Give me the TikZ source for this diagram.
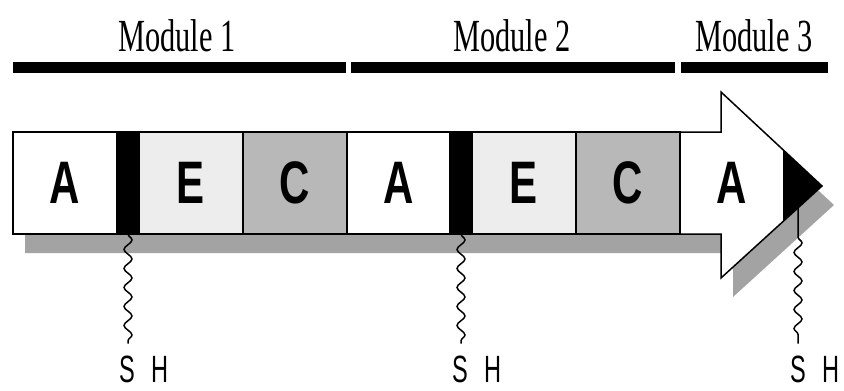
\documentclass[tikz,border=0pt]{standalone}
\usepackage{fontspec}
\usepackage{graphicx}
\setmainfont{Liberation Serif}
\newfontfamily\arialfont{Liberation Sans}
\usetikzlibrary{positioning,decorations.pathmorphing}
\definecolor{egray}{rgb}{0.93,0.93,0.93}
\definecolor{cgray}{rgb}{0.72,0.72,0.72}
\definecolor{sgray}{rgb}{0.64,0.64,0.64}
\newcommand{\dom}[1]{\scalebox{0.7}[1]{#1}}
\newcommand{\modname}[1]{\scalebox{0.66}[1]{#1}}
\newcommand{\thiol}{\scalebox{0.62}[1]{S\hspace{0.66em}H}}

\begin{document}
\begin{tikzpicture}[line cap=butt,line join=miter,x=1pt,y=-1pt,
  seg/.style={draw,line width=1.5pt,minimum height=102pt,minimum width=104pt,inner sep=0pt,outer sep=0pt,font=\arialfont\bfseries\fontsize{60}{60}\selectfont},
  pcp/.style={seg,fill=black,minimum width=22pt},
  modlab/.style={font=\fontsize{46}{46}\selectfont},
  shlab/.style={inner sep=0pt,outer sep=12pt,font=\arialfont\fontsize{38}{38}\selectfont},
  wiggle/.style={decoration={snake,segment length=19pt,amplitude=4pt}},
  wire/.style={line width=1.5pt}]
\useasboundingbox (0,0) rectangle (844,391);
\draw[line width=11pt] (13,67.5) -- (346,67.5);
\draw[line width=11pt] (351,67.5) -- (675,67.5);
\draw[line width=11pt] (681,67.5) -- (828,67.5);
\node[modlab] (mod1) at (177,36) {\modname{Module 1}};
\node[modlab] (mod2) at (512,36) {\modname{Module 2}};
\node[modlab] (mod3) at (754,36) {\modname{Module 3}};
\fill[sgray,shift={(12,19)}] (13,132) -- (721,132) -- (721,92) -- (822,186) -- (721,278) -- (721,234) -- (13,234) -- cycle;
\filldraw[fill=white,line width=1.5pt] (13,132) -- (721,132) -- (721,92) -- (822,186) -- (721,278) -- (721,234) -- (13,234) -- cycle;
\node[seg] (a1) at (65,183) {\dom{A}};
\node[pcp] (b1) [right=0pt of a1] {};
\node[seg,fill=egray] (e1) [right=0pt of b1] {\dom{E}};
\node[seg,fill=cgray] (c1) [right=0pt of e1] {\dom{C}};
\node[seg,minimum width=103pt] (a2) [right=0pt of c1] {\dom{A}};
\node[pcp] (b2) [right=0pt of a2] {};
\node[seg,fill=egray] (e2) [right=0pt of b2] {\dom{E}};
\node[seg,fill=cgray] (c2) [right=0pt of e2] {\dom{C}};
\node[seg,draw=none] (a3) at (732,183) {\dom{A}};
\fill (783,150) -- (822,186) -- (783,221) -- cycle;
\node[shlab] (sh1) at (144,369) {\thiol};
\node[shlab] (sh2) at (477,369) {\thiol};
\node[shlab] (sh3) at (815,369) {\thiol};
\coordinate (t3) at (798,205);
\coordinate (k3) at (798,237);
\draw[wire,wiggle,decorate] (b1.south) -- (b1.south |- sh1.north);
\draw[wire,wiggle,decorate] (b2.south) -- (b2.south |- sh2.north);
\draw[wire] (t3) -- (k3) decorate[wiggle]{-- (k3 |- sh3.north)};
\end{tikzpicture}
\end{document}
